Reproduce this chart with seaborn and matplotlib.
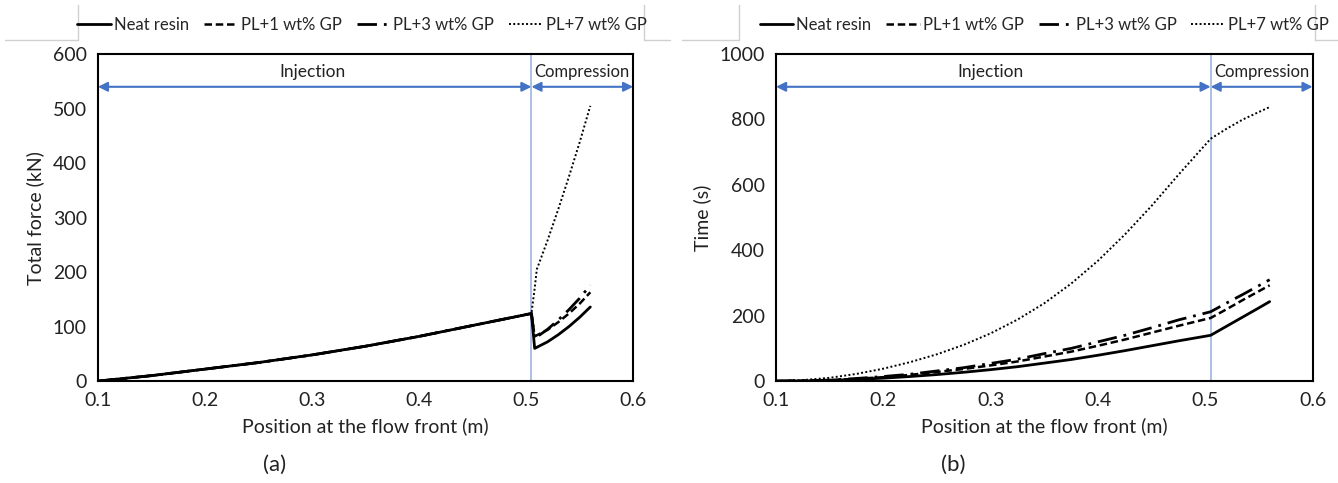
import numpy as np
import pandas as pd
import matplotlib.pyplot as plt
import seaborn as sns
from matplotlib.lines import Line2D

sns.set_theme(style="white")
plt.rcParams['font.family'] = ['Lato', 'DejaVu Sans']

series_names = ["Neat resin", "PL+1 wt% GP", "PL+3 wt% GP", "PL+7 wt% GP"]

# (a) total force - injection part is shared by all materials
force_x_inj = [0.1, 0.15, 0.2, 0.25, 0.3, 0.35, 0.4, 0.45, 0.505]
force_inj = [0, 10, 22, 34, 48, 64, 82, 102, 124]
force_x_comp = [0.508, 0.52, 0.53, 0.54, 0.55, 0.56]
force_comp_neat = [60, 72, 85, 100, 117, 136]
force_comp_pl1 = [82, 94, 108, 124, 142, 163]
force_comp_pl3 = [78, 95, 112, 131, 152, 176]
force_x_comp7 = [0.508, 0.51, 0.52, 0.53, 0.54, 0.55, 0.56]
force_comp_pl7 = [170, 205, 258, 315, 375, 438, 505]

# (b) time
time_x = [0.1, 0.125, 0.15, 0.175, 0.2, 0.225, 0.25, 0.275, 0.3, 0.325, 0.35,
          0.375, 0.4, 0.425, 0.45, 0.475, 0.505, 0.52, 0.535, 0.55, 0.56]
time_neat = [0, 0.5, 2, 5, 9, 14, 20, 27, 35, 44, 55, 66, 79, 93, 108, 123, 140,
             168, 196, 224, 243]
time_pl1 = [0, 1, 3, 7, 12, 19, 28, 37, 48, 60, 75, 90, 108, 127, 148, 169, 193,
            220, 248, 275, 293]
time_pl3 = [0, 1, 3, 8, 14, 21, 31, 41, 54, 67, 84, 100, 120, 140, 163, 187, 212,
            239, 265, 292, 310]
time_pl7 = [0, 3, 10, 22, 38, 58, 82, 111, 146, 188, 238, 298, 368, 448, 536, 631, 741,
            772, 800, 823, 838]

dash_map = {
    "Neat resin": "",
    "PL+1 wt% GP": (3, 1.5),
    "PL+3 wt% GP": (7, 2.5, 1, 2.5),
    "PL+7 wt% GP": (1, 1.2),
}
width_map = {"Neat resin": 2.0, "PL+1 wt% GP": 1.8, "PL+3 wt% GP": 2.0, "PL+7 wt% GP": 1.4}

rows_a = []
for name, comp_x, comp_y in [
    ("Neat resin", force_x_comp, force_comp_neat),
    ("PL+1 wt% GP", force_x_comp, force_comp_pl1),
    ("PL+3 wt% GP", force_x_comp, force_comp_pl3),
    ("PL+7 wt% GP", force_x_comp7, force_comp_pl7),
]:
    for x, y in zip(force_x_inj + comp_x, force_inj + comp_y):
        rows_a.append({"x": x, "y": y, "series": name})
df_a = pd.DataFrame(rows_a)

rows_b = []
for name, vals in zip(series_names, [time_neat, time_pl1, time_pl3, time_pl7]):
    for x, y in zip(time_x, vals):
        rows_b.append({"x": x, "y": y, "series": name})
df_b = pd.DataFrame(rows_b)

fig = plt.figure(figsize=(13.38, 4.83), dpi=100)
ax1 = fig.add_axes([0.0732, 0.211, 0.400, 0.677])
ax2 = fig.add_axes([0.580, 0.211, 0.401, 0.677])

blue = "#4472C4"
lightblue = "#9DB5E0"


def draw(ax, df, ymax, ystep, ylabel, letter, arrow_y, text_y):
    for name in series_names:
        sub = df[df["series"] == name]
        sns.lineplot(data=sub, x="x", y="y", ax=ax, color="black",
                     lw=width_map[name], estimator=None, sort=False,
                     dashes=False)
        line = ax.lines[-1]
        if dash_map[name]:
            line.set_dashes(dash_map[name])
    ax.set_xlim(0.1, 0.6)
    ax.set_ylim(0, ymax)
    ax.set_xticks(np.arange(0.1, 0.61, 0.1))
    ax.set_xticklabels(["0.1", "0.2", "0.3", "0.4", "0.5", "0.6"])
    ax.set_yticks(np.arange(0, ymax + 1, ystep))
    ax.tick_params(labelsize=14, colors="#222222", pad=8, length=0)
    ax.set_xlabel("Position at the flow front (m)", fontsize=14, color="#222222", labelpad=6)
    ax.set_ylabel(ylabel, fontsize=14, color="#222222", labelpad=6)
    for s in ax.spines.values():
        s.set_visible(True)
        s.set_color("black")
        s.set_linewidth(1.5)
    ax.axvline(0.505, color=lightblue, lw=1.2, zorder=0)
    ax.annotate("", xy=(0.1, arrow_y), xytext=(0.505, arrow_y),
                arrowprops=dict(arrowstyle="<|-|>", color=blue, lw=1.5,
                                shrinkA=0, shrinkB=0, mutation_scale=14))
    ax.annotate("", xy=(0.505, arrow_y), xytext=(0.6, arrow_y),
                arrowprops=dict(arrowstyle="<|-|>", color=blue, lw=1.5,
                                shrinkA=0, shrinkB=0, mutation_scale=14))
    ax.text(0.3, text_y, "Injection", ha="center", va="center", fontsize=12.5, color="#222222")
    ax.text(0.5525, text_y, "Compression", ha="center", va="center", fontsize=12, color="#222222")
    ax.text(0.33, -0.255, letter, transform=ax.transAxes, ha="center", va="center",
            fontsize=16, color="#222222")


draw(ax1, df_a, 600, 100, "Total force (kN)", "(a)", 540, 567)
draw(ax2, df_b, 1000, 200, "Time (s)", "(b)", 900, 945)

handles = []
for name in series_names:
    h = Line2D([0], [0], color="black", lw=width_map[name])
    if dash_map[name]:
        h.set_dashes(dash_map[name])
    handles.append(h)

for cx in [0.2705, 0.7805]:
    fig.legend(handles, series_names, loc="center", bbox_to_anchor=(cx, 0.948),
               ncol=4, frameon=False, fontsize=12, handlelength=2.0,
               handletextpad=0.2, columnspacing=0.9)

# light grey frame pieces around the legend area
grey = "#D0D0D0"
for x0, x1, xv in [(0.004, 0.058, 0.058), (0.481, 0.501, 0.481),
                   (0.51, 0.552, 0.552), (0.983, 0.999, 0.983)]:
    fig.add_artist(Line2D([x0, x1], [0.917, 0.917], color=grey, lw=1))
    fig.add_artist(Line2D([xv, xv], [0.917, 0.99], color=grey, lw=1))

fig.savefig("out.png", dpi=100)
